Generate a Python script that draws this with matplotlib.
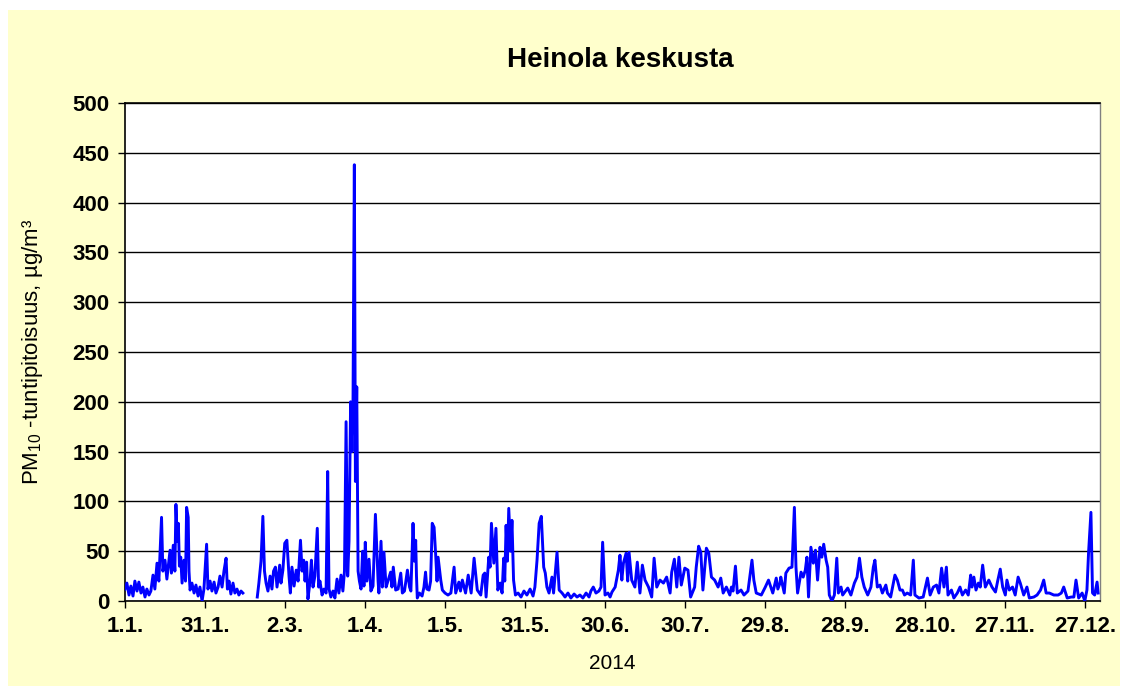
import numpy as np
import matplotlib
matplotlib.use("Agg")
import matplotlib.pyplot as plt
from matplotlib.patches import Rectangle

plt.rcParams['font.family'] = ['Liberation Sans', 'DejaVu Sans']
plt.rcParams['mathtext.fontset'] = 'custom'
plt.rcParams['mathtext.rm'] = 'Liberation Sans'

# PM10 hourly concentration as (day of year, value) vertices
days = [0, 0.7, 1.5, 2.2, 3, 3.7, 4.5, 5.2, 6, 6.7, 7.5, 8.2, 9, 9.7, 10.5, 11.2, 12, 12.7,
        13.7, 14.2, 15, 15.7, 16.9, 17.4, 18.1, 18.7, 19.1, 19.6, 20, 20.4, 20.9, 21.4, 22.1,
        22.7, 23.1, 23.7, 24, 24.4, 25.1, 25.9, 26.6, 27.4, 28.1, 28.9, 29.6, 30.6, 31.1, 31.9,
        32.6, 33.4, 34.1, 34.9, 35.6, 36.4, 37.1, 37.9, 38.4, 39, 39.7, 40.5, 41.2, 42, 42.7,
        43.5, 44.2, 46, 49.6, 50.2, 51, 51.7, 52.3, 52.9, 53.6, 54.4, 55.1, 55.7, 56.4, 57, 58,
        58.5, 59.2, 59.9, 60.7, 61.5, 62, 62.6, 63.4, 64.2, 64.9, 65.8, 66.4, 67, 67.5, 68.1,
        68.6, 69.4, 69.9, 70.5, 71.2, 72.1, 72.6, 73.1, 73.9, 74.6, 75.4, 76, 76.5, 77.2, 78,
        78.7, 79.5, 80.2, 81, 81.7, 82.3, 82.9, 83.5, 84, 84.6, 85.1, 85.5, 86, 86.4, 86.9,
        87.4, 87.9, 88.5, 89.1, 89.6, 90.1, 90.7, 91.5, 92.2, 93, 93.9, 94.3, 94.9, 95.2, 96,
        96.5, 97.1, 97.9, 98.6, 99.6, 100.1, 100.6, 101.5, 102.4, 103.4, 104, 104.8, 105.9,
        106.7, 107.2, 108, 108.5, 109, 109.3, 109.6, 110.4, 111.4, 112.1, 112.7, 113.2, 114,
        114.6, 115.2, 115.9, 116.5, 117, 117.4, 118.4, 119, 120, 121.1, 122.2, 123.4, 124,
        125.2, 125.8, 126.5, 127.7, 128.7, 129.8, 130.9, 132.1, 133.4, 134.3, 134.9, 135.4,
        136.4, 136.9, 137.4, 138.3, 139.1, 139.8, 140.7, 141.4, 142, 142.4, 142.9, 143.4,
        143.9, 144.6, 145.1, 145.7, 146.4, 147.4, 148.5, 149.6, 150.7, 151.9, 153, 153.7,
        154.5, 155.3, 156.1, 157, 157.6, 158.2, 159, 160.1, 160.7, 162, 162.8, 163.9, 165,
        166.1, 167.2, 168.4, 169.5, 170.6, 171.7, 172.9, 174, 174.7, 175.6, 176.6, 177.7,
        178.5, 179.1, 180, 181.1, 181.9, 182.6, 183.8, 185, 185.6, 186.3, 186.9, 187.9, 188.5,
        189, 190, 191.2, 192.1, 193.1, 194, 195, 196.3, 197.5, 198.4, 199.4, 200.6, 201.9,
        203.1, 204.4, 205, 206, 206.9, 207.7, 208.6, 209.9, 211.1, 212.1, 213.6, 214.2, 215.1,
        215.9, 216.7, 218, 218.9, 219.9, 221.1, 222.4, 223.4, 224.3, 225.5, 226.8, 227.4, 228,
        228.9, 229.6, 231, 232.1, 233.6, 235.1, 235.8, 236.7, 238.6, 240.1, 241.3, 242.9,
        244.2, 244.8, 245.6, 245.9, 247.2, 247.8, 249, 250.1, 251, 251.6, 252.2, 253.5, 254.3,
        255.1, 255.7, 256.3, 257.2, 258.1, 258.9, 259.7, 260.6, 261.3, 262, 262.9, 263.5,
        264.1, 265.1, 266, 266.9, 267.5, 268.5, 269.1, 271, 272.2, 273.5, 274.5, 275.4, 276.3,
        277.2, 278.5, 279.7, 280.6, 281.2, 282.1, 283.1, 284, 285.3, 285.9, 287.1, 288.7,
        289.6, 290.6, 291.5, 292.3, 293.3, 294.6, 295.6, 296.2, 297.7, 299.3, 300.9, 301.9,
        303.1, 304.3, 305.2, 306.2, 307.1, 308, 308.6, 309.9, 310.8, 312.1, 313.1, 314, 315.2,
        316.2, 317.1, 317.6, 318.3, 319.1, 320, 320.7, 321.6, 322.6, 323.9, 325.1, 326.4,
        327.3, 328.2, 329.1, 330.1, 330.7, 331.6, 332.8, 333.8, 334.9, 335.7, 337, 338.2,
        339.1, 340.8, 342, 343.3, 344.5, 345.4, 346.6, 348.3, 349.9, 351.1, 352, 353.3, 354.8,
        355.8, 356.6, 357.6, 358.9, 359.9, 360.7, 361.3, 362.2, 362.8, 363.6, 364.5, 364.9]

pm10 = [12, 18, 6, 15, 5, 20, 10, 19, 8, 14, 4, 12, 6, 10, 26, 12, 38, 20,
        84, 30, 41, 22, 51, 28, 56, 30, 97, 60, 78, 35, 44, 18, 41,
        20, 94, 84, 30, 11, 18, 8, 16, 5, 14, 0, 12, 57, 12, 20,
        10, 19, 8, 14, 25, 14, 30, 43, 12, 20, 7, 18, 8, 12, 6,
        10, 8, np.nan, 4, 18, 40, 85, 30, 18, 10, 25, 12, 30, 34, 14, 36,
        18, 31, 58, 61, 25, 8, 34, 15, 31, 20, 61, 30, 41, 20, 39,
        2, 20, 41, 14, 25, 73, 14, 20, 6, 12, 8, 130, 12, 4, 10,
        3, 22, 8, 26, 10, 30, 180, 25, 60, 200, 150, 200, 438, 120, 215,
        30, 20, 12, 50, 15, 59, 20, 42, 10, 15, 87, 60, 20, 8, 60,
        14, 49, 14, 20, 29, 14, 34, 11, 12, 28, 8, 10, 31,
        14, 10, 78, 40, 61, 25, 3, 8, 5, 14, 29, 12, 11,
        20, 78, 74, 46, 20, 44, 21, 11, 8, 6, 8, 34, 8,
        19, 10, 21, 8, 26, 8, 43, 11, 6, 26, 28, 4,
        44, 34, 78, 38, 73, 11, 18, 8, 43, 20, 76, 40,
        93, 50, 81, 21, 6, 8, 4, 10, 6, 12, 5, 14,
        41, 78, 85, 34, 28, 14, 8, 24, 8, 49, 11, 8, 4,
        8, 3, 7, 4, 6, 3, 8, 4, 10, 14, 8, 10,
        14, 59, 6, 8, 4, 9, 14, 31, 46, 21, 38, 48, 20,
        49, 21, 14, 39, 8, 36, 21, 14, 4, 43, 14, 21, 18,
        24, 8, 29, 42, 14, 44, 16, 33, 31, 4, 14, 34, 55,
        49, 11, 53, 48, 24, 21, 14, 23, 8, 14, 6, 14, 10,
        35, 8, 11, 6, 10, 41, 21, 8, 6, 14, 21, 8,
        23, 12, 18, 24, 8, 28, 33, 34, 94, 34, 8, 29, 24,
        31, 44, 4, 54, 38, 51, 21, 54, 44, 57, 41, 34,
        6, 0, 6, 43, 8, 14, 6, 13, 6, 18, 24, 43, 24,
        14, 6, 14, 34, 41, 14, 16, 8, 16, 8, 4, 26,
        21, 11, 11, 6, 8, 6, 41, 6, 3, 4, 23, 6,
        14, 16, 8, 33, 14, 34, 6, 11, 3, 8, 14, 6, 11,
        6, 26, 14, 24, 11, 18, 14, 36, 14, 21, 14, 9,
        21, 32, 14, 6, 21, 11, 14, 6, 24, 18, 6, 14,
        3, 4, 6, 11, 21, 8, 8, 6, 6, 8, 14, 3, 4,
        4, 21, 3, 8, 0, 11, 48, 89, 8, 6, 19, 8]

tick_days = [0, 30, 60, 90, 120, 150, 180, 210, 240, 270, 300, 330, 360]
tick_labels = ['1.1.', '31.1.', '2.3.', '1.4.', '1.5.', '31.5.', '30.6.', '30.7.',
               '29.8.', '28.9.', '28.10.', '27.11.', '27.12.']
y_ticks = [0, 50, 100, 150, 200, 250, 300, 350, 400, 450, 500]

fig = plt.figure(figsize=(11.28, 6.92), dpi=100, facecolor='white')
# pale yellow chart area with a thin white margin
fig.patches.append(Rectangle((8 / 1128, 1 - 686 / 692), 1112 / 1128, 676 / 692,
                             transform=fig.transFigure, facecolor='#FFFFCC',
                             edgecolor='none', zorder=-1))

ax = fig.add_axes([125 / 1128, 1 - 601 / 692, 975 / 1128, 498 / 692])
ax.set_facecolor('white')
ax.plot(days, pm10, color='#0000FF', lw=2.1, zorder=3)

ax.set_xlim(0, 365.6)
ax.set_ylim(0, 500)
ax.set_yticks(y_ticks)
ax.set_xticks(tick_days)
ax.set_xticklabels(tick_labels)
for lab in ax.get_xticklabels() + ax.get_yticklabels():
    lab.set_fontweight('bold')
    lab.set_fontsize(16)
ax.tick_params(axis='both', direction='out', length=5, width=1, color='black')
ax.tick_params(axis='x', pad=6)
ax.tick_params(axis='y', pad=6)

ax.grid(axis='y', color='black', lw=1)
ax.set_axisbelow(True)
for s in ['left', 'bottom', 'top']:
    ax.spines[s].set_color('black')
    ax.spines[s].set_linewidth(1.2)
ax.spines['right'].set_color('#808080')
ax.spines['right'].set_linewidth(1)

ax.set_title('Heinola keskusta', fontsize=20, fontweight='bold', pad=26, x=0.508)
ax.set_ylabel('PM$_{10}$ -tuntipitoisuus, µg/m³', fontsize=16, labelpad=20)
ax.set_xlabel('2014', fontsize=15, labelpad=12)

fig.savefig('out.png', dpi=100, facecolor=fig.get_facecolor())
